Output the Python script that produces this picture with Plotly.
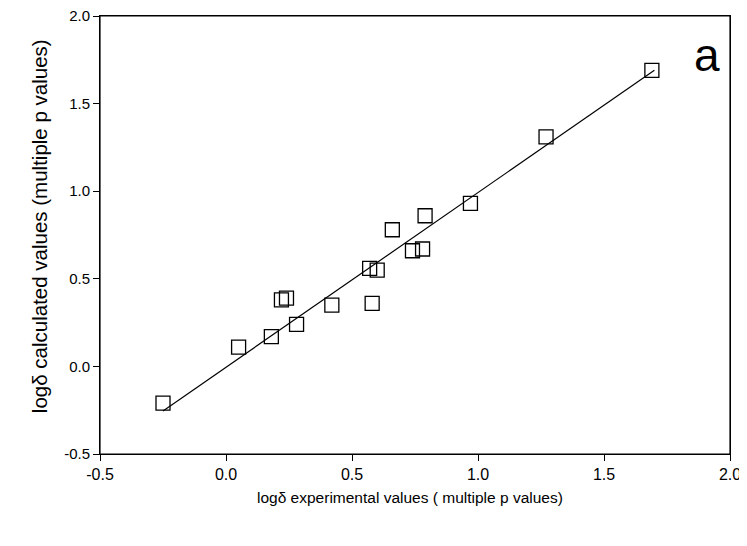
import plotly.graph_objects as go

# data
exp_vals = [-0.25, 0.05, 0.18, 0.22, 0.24, 0.28, 0.42, 0.57, 0.60, 0.58,
            0.74, 0.78, 0.66, 0.79, 0.97, 1.27, 1.69]
calc_vals = [-0.21, 0.11, 0.17, 0.38, 0.39, 0.24, 0.35, 0.56, 0.55, 0.36,
             0.66, 0.67, 0.78, 0.86, 0.93, 1.31, 1.69]
fit_x = [-0.25, 1.70]
fit_y = [-0.254, 1.69]
tick_vals = [-0.5, 0.0, 0.5, 1.0, 1.5, 2.0]
tick_text = ["-0.5", "0.0", "0.5", "1.0", "1.5", "2.0"]

font = "Liberation Sans, Arial, sans-serif"

fig = go.Figure()
fig.add_trace(go.Scatter(x=fit_x, y=fit_y, mode="lines",
                         line=dict(color="black", width=1.2),
                         showlegend=False, hoverinfo="skip"))
fig.add_trace(go.Scatter(x=exp_vals, y=calc_vals, mode="markers",
                         marker=dict(symbol="square-open", size=14,
                                     color="black", line=dict(width=1.3)),
                         showlegend=False))

axis_common = dict(showgrid=False, zeroline=False, showline=True,
                   linecolor="black", linewidth=1, mirror=True,
                   ticks="outside", ticklen=6, tickwidth=1, tickcolor="black",
                   tickvals=tick_vals, ticktext=tick_text,
                   ticklabeloverflow="allow", automargin=False)

fig.update_xaxes(range=[-0.5, 2.0], **axis_common,
                 tickfont=dict(family=font, size=16, color="black"))
fig.update_yaxes(range=[-0.5, 2.0], **axis_common,
                 tickfont=dict(family=font, size=15, color="black"))

fig.add_annotation(x=0.492, y=-0.10, xref="paper", yref="paper",
                   xanchor="center", yanchor="middle", showarrow=False,
                   text="logδ experimental values ( multiple p values)",
                   font=dict(family=font, size=15.5, color="black"))
fig.add_annotation(x=-0.097, y=0.52, xref="paper", yref="paper",
                   xanchor="center", yanchor="middle", showarrow=False,
                   textangle=-90,
                   text="logδ calculated values (multiple p values)",
                   font=dict(family=font, size=20.5, color="black"))
fig.add_annotation(x=0.9635, y=0.912, xref="paper", yref="paper",
                   xanchor="center", yanchor="middle", text="a", showarrow=False,
                   font=dict(family=font, size=46, color="black"))

fig.add_shape(type="rect", xref="paper", yref="paper", x0=0, y0=0, x1=1, y1=1,
              line=dict(color="black", width=1.2), layer="above")

# page body has an 8px margin; margins chosen so the plot box lands where the
# reference has it while keeping the top "2.0" label inside the figure
fig.update_layout(width=747, height=546,
                  margin=dict(l=92, r=25, t=8, b=100),
                  plot_bgcolor="white", paper_bgcolor="white")

fig.write_html("out.html")
